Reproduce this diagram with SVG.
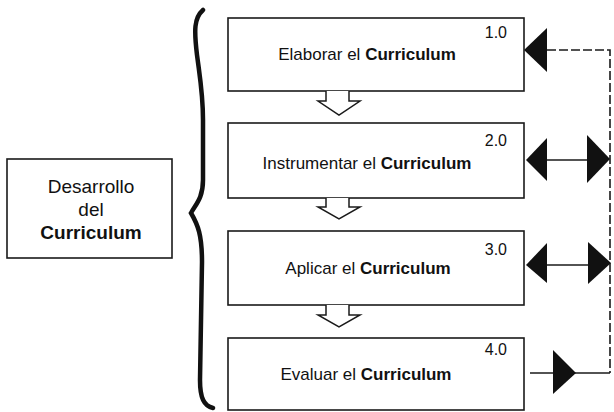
<svg xmlns="http://www.w3.org/2000/svg" width="614" height="412" viewBox="0 0 614 412">
<style>
.box{fill:#fff;stroke:#1a1a1a;stroke-width:1.6}
.t{font-family:"Liberation Sans",Arial,sans-serif;font-size:17px;fill:#111;text-anchor:middle}
.b{font-weight:bold}
.num{font-family:"Liberation Sans",Arial,sans-serif;font-size:16px;fill:#111;text-anchor:end}
.lt{font-family:"Liberation Sans",Arial,sans-serif;font-size:19px;fill:#111;text-anchor:middle}
.down{fill:#fff;stroke:#1a1a1a;stroke-width:1.5;stroke-linejoin:miter}
.tri{fill:#111}
.line{fill:none;stroke:#1a1a1a;stroke-width:1.6}
.dash{fill:none;stroke:#1a1a1a;stroke-width:1.6;stroke-dasharray:9 3}
</style>
<rect width="614" height="412" fill="#fff"/>
<g id="desarrollo">
<rect class="box" x="7" y="159" width="165" height="99"/>
<text class="lt" x="91" y="193">Desarrollo</text>
<text class="lt" x="91" y="216">del</text>
<text class="lt b" x="91" y="239">Curriculum</text>
</g>
<g id="brace">
<path d="M203,10 C194,18 194,30 197,55 C201,85 203,95 203,120 L203,180 C203,198 196,204 191,213 C198,225 202,235 202,262 L200,380 C200,398 204,406 213,408" fill="none" stroke="#111" stroke-width="4.5" stroke-linecap="round"/>
</g>
<g id="n1">
<rect class="box" x="228" y="18" width="296" height="73"/>
<text class="num" x="507" y="38">1.0</text>
<text class="t" x="367" y="60">Elaborar el <tspan class="b">Curriculum</tspan></text>
</g>
<g id="n2">
<rect class="box" x="228" y="123" width="296" height="75"/>
<text class="num" x="507" y="146">2.0</text>
<text class="t" x="367" y="169">Instrumentar el <tspan class="b">Curriculum</tspan></text>
</g>
<g id="n3">
<rect class="box" x="228" y="231" width="296" height="74"/>
<text class="num" x="507" y="255">3.0</text>
<text class="t" x="368" y="274">Aplicar el <tspan class="b">Curriculum</tspan></text>
</g>
<g id="n4">
<rect class="box" x="228" y="338" width="296" height="72"/>
<text class="num" x="507" y="355">4.0</text>
<text class="t" x="366" y="380">Evaluar el <tspan class="b">Curriculum</tspan></text>
</g>
<g id="connectors">
<path class="down" d="M326,91 L326,101 L318,101 L339,115 L360,101 L349,101 L349,91"/>
<path class="down" d="M326,198 L326,207 L318,207 L339,219 L360,207 L349,207 L349,198"/>
<path class="down" d="M326,305 L326,315 L318,315 L339,327 L360,315 L349,315 L349,305"/>
<path class="dash" d="M547,50 L610,50 L610,373"/>
<path class="line" d="M530,373 L610,373"/>
<path class="line" d="M547,160 L588,160"/>
<path class="line" d="M547,265 L588,265"/>
<polygon class="tri" points="524,50 547,28 547,72"/>
<polygon class="tri" points="526,160 547,138 547,181"/>
<polygon class="tri" points="610,159 587,135 587,183"/>
<polygon class="tri" points="526,265 547,243 547,283"/>
<polygon class="tri" points="611,263 588,242 588,284"/>
<polygon class="tri" points="576,373 553,350 553,394"/>
</g>
</svg>
